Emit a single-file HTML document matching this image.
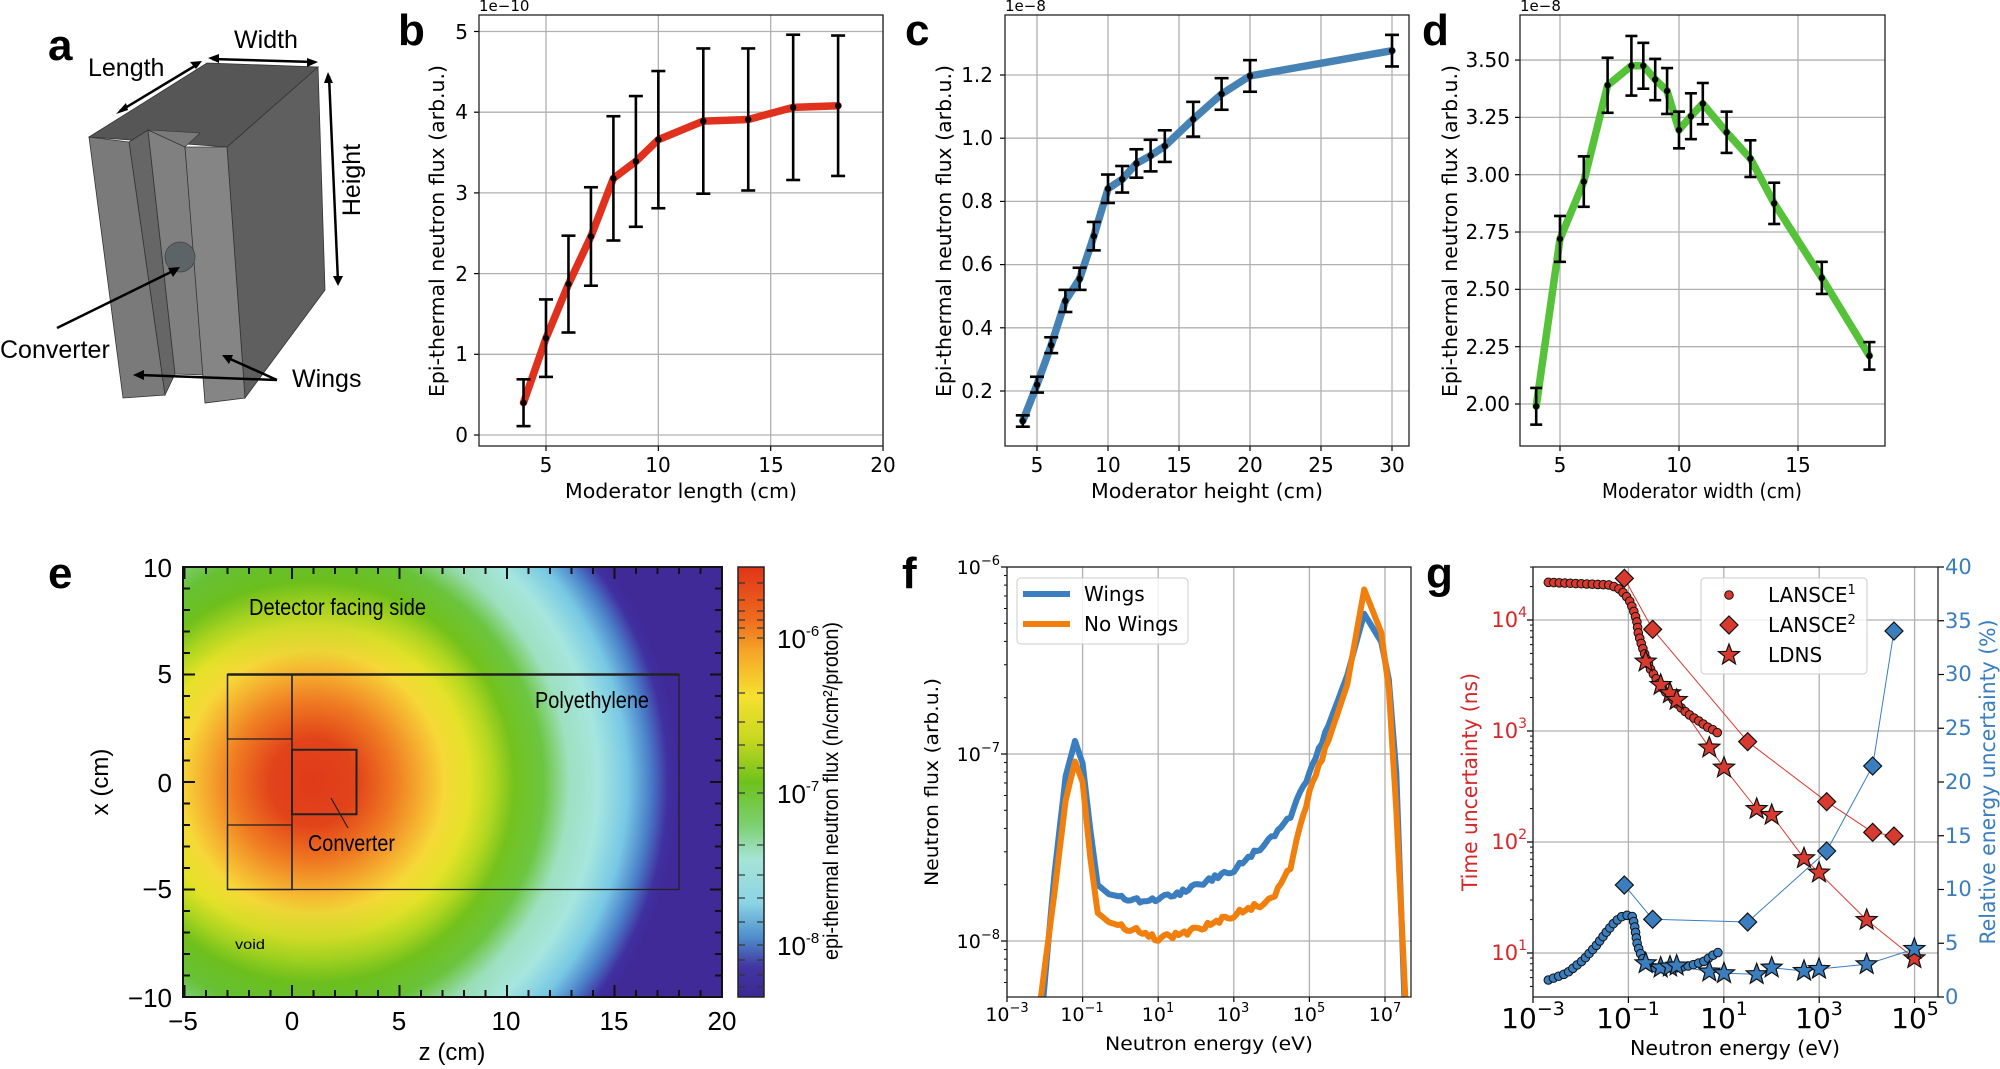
<!DOCTYPE html>
<html><head><meta charset="utf-8"><style>
html,body{margin:0;padding:0;background:#fff;width:2000px;height:1069px;overflow:hidden;}
svg{display:block;}
.t{font-family:"DejaVu Sans","Liberation Sans",sans-serif;fill:#000;}
.h{font-family:"Liberation Sans",sans-serif;fill:#000;}
.pl{font-family:"Liberation Sans","DejaVu Sans",sans-serif;font-weight:bold;font-size:44px;fill:#000;}
</style></head><body>
<svg id="s" width="2000" height="1069" viewBox="0 0 2000 1069" xmlns="http://www.w3.org/2000/svg">
<defs>
<radialGradient id="heat" gradientUnits="userSpaceOnUse" cx="313" cy="782" r="366">
<stop offset="0" stop-color="#e03a1a"/><stop offset="0.12" stop-color="#e2441a"/>
<stop offset="0.22" stop-color="#ef7a22"/><stop offset="0.3" stop-color="#f5b030"/>
<stop offset="0.36" stop-color="#f6d838"/><stop offset="0.43" stop-color="#e4e228"/>
<stop offset="0.49" stop-color="#b4d820"/><stop offset="0.55" stop-color="#74c21c"/>
<stop offset="0.63" stop-color="#6cc640"/><stop offset="0.7" stop-color="#9ee0c0"/>
<stop offset="0.78" stop-color="#a6e6de"/><stop offset="0.86" stop-color="#78c8e4"/>
<stop offset="0.92" stop-color="#4a80c8"/><stop offset="0.97" stop-color="#4030a0"/>
<stop offset="1" stop-color="#402a98"/>
</radialGradient>
<linearGradient id="ovlT" x1="0" y1="0" x2="0" y2="1">
<stop offset="0" stop-color="#5cb820" stop-opacity="0.4"/><stop offset="1" stop-color="#5cb820" stop-opacity="0"/>
</linearGradient>
<linearGradient id="ovlB" x1="0" y1="1" x2="0" y2="0">
<stop offset="0" stop-color="#5cb820" stop-opacity="0.4"/><stop offset="1" stop-color="#5cb820" stop-opacity="0"/>
</linearGradient>
<linearGradient id="hfade" gradientUnits="userSpaceOnUse" x1="183" y1="0" x2="500" y2="0">
<stop offset="0" stop-color="#fff"/><stop offset="0.5" stop-color="#fff"/><stop offset="1" stop-color="#000"/>
</linearGradient>
<mask id="mL" maskUnits="userSpaceOnUse" x="183" y="567" width="539" height="430"><rect x="183" y="567" width="539" height="430" fill="url(#hfade)"/></mask>
<linearGradient id="cbar" x1="0" y1="0" x2="0" y2="1">
<stop offset="0" stop-color="#e03418"/><stop offset="0.12" stop-color="#ee6a1e"/>
<stop offset="0.2" stop-color="#f6a828"/><stop offset="0.3" stop-color="#f6e030"/>
<stop offset="0.4" stop-color="#c8d820"/><stop offset="0.5" stop-color="#6ec21c"/>
<stop offset="0.6" stop-color="#7cd070"/><stop offset="0.68" stop-color="#a6e4d6"/>
<stop offset="0.78" stop-color="#8cd4e4"/><stop offset="0.86" stop-color="#4e90cc"/>
<stop offset="0.93" stop-color="#4236a0"/><stop offset="1" stop-color="#3c2896"/>
</linearGradient>
<clipPath id="clipE"><rect x="183" y="567" width="539" height="430"/></clipPath>
<clipPath id="clipF"><rect x="1007" y="567" width="404" height="430"/></clipPath>
<clipPath id="clipG"><rect x="1533" y="567" width="405" height="430"/></clipPath>
</defs>

<!-- Panel a -->
<g id="pa">
<polygon points="227,147 318,67 325,290 245,398" fill="#5f5f5f" stroke="#333" stroke-width="0.8"/>
<polygon points="89,137 207,63 318,67 227,147" fill="#565656" stroke="#333" stroke-width="0.8"/>
<polygon points="148,130 200,133 185,147 129,142" fill="#7a7a7a" stroke="#333" stroke-width="0.6"/>
<polygon points="129,142 148,130 175,374 165,395" fill="#666" stroke="#333" stroke-width="0.8"/>
<polygon points="148,130 185,147 205,375 175,374" fill="#808080" stroke="#333" stroke-width="0.8"/>
<polygon points="89,137 129,142 165,395 123,398" fill="#7a7a7a" stroke="#333" stroke-width="0.8"/>
<polygon points="185,147 227,147 245,398 205,403" fill="#858585" stroke="#333" stroke-width="0.8"/>
<circle cx="180" cy="257" r="15" fill="#5d6468" stroke="#444" stroke-width="0.8"/>
<g stroke="#000" stroke-width="2.5" fill="#000">
<line x1="120" y1="111" x2="198" y2="64"/><line x1="212" y1="59" x2="314" y2="62"/>
<line x1="329" y1="76" x2="338" y2="282"/><line x1="57" y1="328" x2="175" y2="270"/>
<line x1="277" y1="380" x2="140" y2="375"/><line x1="277" y1="380" x2="228" y2="358"/>
</g>
<g fill="#000">
<polygon points="116,114 126,103 128,110"/><polygon points="202,61 190,62 196,69"/>
<polygon points="208,58 219,54 219,63"/><polygon points="318,62 307,58 307,67"/>
<polygon points="328,72 324,83 333,83"/><polygon points="338,286 333,276 343,276"/>
<polygon points="180,267 168,268 173,277"/><polygon points="133,375 144,370 144,380"/>
<polygon points="222,355 233,355 229,364"/>
</g>
<text class="pl" x="48" y="60">a</text>
<text class="h" x="266" y="48" font-size="25" text-anchor="middle">Width</text>
<text class="h" x="88" y="76" font-size="25">Length</text>
<text class="h" font-size="25" text-anchor="middle" transform="translate(360,180) rotate(-90)">Height</text>
<text class="h" x="0" y="358" font-size="25">Converter</text>
<text class="h" x="292" y="387" font-size="25">Wings</text>
</g>

<text class="pl" x="398" y="45">b</text>
<text class="pl" x="905" y="45">c</text>
<text class="pl" x="1422" y="45">d</text>
<text class="pl" x="48" y="588">e</text>
<text class="pl" x="902" y="588">f</text>
<text class="pl" x="1426" y="588">g</text>

<g id="dyn"></g>

<g class="t" font-size="20">
<text x="479" y="11" font-size="15">1e−10</text>
<g text-anchor="end"><text x="468" y="442">0</text><text x="468" y="361">1</text><text x="468" y="281">2</text><text x="468" y="200">3</text><text x="468" y="119">4</text><text x="468" y="39">5</text></g>
<g text-anchor="middle"><text x="546" y="472">5</text><text x="658" y="472">10</text><text x="771" y="472">15</text><text x="883" y="472">20</text>
<text x="681" y="498" textLength="232" lengthAdjust="spacingAndGlyphs">Moderator length (cm)</text>
<text transform="translate(444,231) rotate(-90)" textLength="332" lengthAdjust="spacingAndGlyphs">Epi-thermal neutron flux (arb.u.)</text></g>
</g>
<g class="t" font-size="20">
<text x="1005" y="11" font-size="15">1e−8</text>
<g text-anchor="end"><text x="993" y="398">0.2</text><text x="993" y="335">0.4</text><text x="993" y="271">0.6</text><text x="993" y="208">0.8</text><text x="993" y="145">1.0</text><text x="993" y="82">1.2</text></g>
<g text-anchor="middle"><text x="1037" y="472">5</text><text x="1108" y="472">10</text><text x="1179" y="472">15</text><text x="1250" y="472">20</text><text x="1321" y="472">25</text><text x="1392" y="472">30</text>
<text x="1207" y="498" textLength="232" lengthAdjust="spacingAndGlyphs">Moderator height (cm)</text>
<text transform="translate(951,231) rotate(-90)" textLength="332" lengthAdjust="spacingAndGlyphs">Epi-thermal neutron flux (arb.u.)</text></g>
</g>
<g class="t" font-size="20">
<text x="1520" y="11" font-size="15">1e−8</text>
<g text-anchor="end"><text x="1510" y="411">2.00</text><text x="1510" y="354">2.25</text><text x="1510" y="296">2.50</text><text x="1510" y="239">2.75</text><text x="1510" y="182">3.00</text><text x="1510" y="124">3.25</text><text x="1510" y="67">3.50</text></g>
<g text-anchor="middle"><text x="1560" y="472">5</text><text x="1679" y="472">10</text><text x="1798" y="472">15</text>
<text x="1702" y="498" textLength="200" lengthAdjust="spacingAndGlyphs">Moderator width (cm)</text>
<text transform="translate(1457,231) rotate(-90)" textLength="332" lengthAdjust="spacingAndGlyphs">Epi-thermal neutron flux (arb.u.)</text></g>
</g>

<g class="h" font-size="26">
<g text-anchor="end"><text x="172" y="577">10</text><text x="172" y="683">5</text><text x="172" y="792">0</text><text x="172" y="898">−5</text><text x="172" y="1007">−10</text></g>
<g text-anchor="middle"><text x="183" y="1030">−5</text><text x="292" y="1030">0</text><text x="399" y="1030">5</text><text x="506" y="1030">10</text><text x="614" y="1030">15</text><text x="722" y="1030">20</text>
<text x="452" y="1060" font-size="24">z (cm)</text>
<text transform="translate(108,782) rotate(-90)" font-size="24">x (cm)</text></g>
<text x="249" y="615" font-size="23" textLength="177" lengthAdjust="spacingAndGlyphs">Detector facing side</text>
<text x="535" y="708" font-size="23" textLength="114" lengthAdjust="spacingAndGlyphs">Polyethylene</text>
<text x="308" y="851" font-size="23" textLength="87" lengthAdjust="spacingAndGlyphs">Converter</text>
<text x="235" y="949" font-size="14" textLength="30" lengthAdjust="spacingAndGlyphs">void</text>
<text x="777" y="648" font-size="26">10<tspan dy="-12" font-size="15">-6</tspan></text>
<text x="777" y="803" font-size="26">10<tspan dy="-12" font-size="15">-7</tspan></text>
<text x="777" y="955" font-size="26">10<tspan dy="-12" font-size="15">-8</tspan></text>
<text transform="translate(838,791) rotate(-90)" font-size="21" text-anchor="middle" textLength="338" lengthAdjust="spacingAndGlyphs">epi-thermal neutron flux (n/cm²/proton)</text>
</g>

<g class="t" font-size="19">
<g text-anchor="end"><text x="1000" y="574">10<tspan dy="-9" font-size="13">−6</tspan></text><text x="1000" y="761">10<tspan dy="-9" font-size="13">−7</tspan></text><text x="1000" y="948">10<tspan dy="-9" font-size="13">−8</tspan></text></g>
<g text-anchor="middle">
<text x="1007" y="1021">10<tspan dy="-9" font-size="13">−3</tspan></text><text x="1082" y="1021">10<tspan dy="-9" font-size="13">−1</tspan></text><text x="1158" y="1021">10<tspan dy="-9" font-size="13">1</tspan></text><text x="1233" y="1021">10<tspan dy="-9" font-size="13">3</tspan></text><text x="1309" y="1021">10<tspan dy="-9" font-size="13">5</tspan></text><text x="1385" y="1021">10<tspan dy="-9" font-size="13">7</tspan></text>
<text x="1209" y="1050" textLength="208" lengthAdjust="spacingAndGlyphs">Neutron energy (eV)</text>
<text transform="translate(938,782) rotate(-90)" textLength="208" lengthAdjust="spacingAndGlyphs">Neutron flux (arb.u.)</text></g>
<text x="1084" y="601" font-size="20">Wings</text>
<text x="1084" y="631" font-size="20">No Wings</text>
</g>

<g class="t">
<g text-anchor="end" font-size="21" style="fill:#d62728"><text x="1527" y="627">10<tspan dy="-10" font-size="14">4</tspan></text><text x="1527" y="738">10<tspan dy="-10" font-size="14">3</tspan></text><text x="1527" y="849">10<tspan dy="-10" font-size="14">2</tspan></text><text x="1527" y="960">10<tspan dy="-10" font-size="14">1</tspan></text></g>
<g font-size="21" style="fill:#3a7ebf"><text x="1945" y="1004">0</text><text x="1945" y="950">5</text><text x="1945" y="896">10</text><text x="1945" y="843">15</text><text x="1945" y="789">20</text><text x="1945" y="735">25</text><text x="1945" y="681">30</text><text x="1945" y="628">35</text><text x="1945" y="574">40</text></g>
<g text-anchor="middle" font-size="28">
<text x="1533" y="1028">10<tspan dy="-13" font-size="19">−3</tspan></text><text x="1628" y="1028">10<tspan dy="-13" font-size="19">−1</tspan></text><text x="1724" y="1028">10<tspan dy="-13" font-size="19">1</tspan></text><text x="1819" y="1028">10<tspan dy="-13" font-size="19">3</tspan></text><text x="1915" y="1028">10<tspan dy="-13" font-size="19">5</tspan></text></g>
<text x="1735" y="1055" font-size="20" text-anchor="middle" textLength="210" lengthAdjust="spacingAndGlyphs">Neutron energy (eV)</text>
<text transform="translate(1477,782) rotate(-90)" font-size="21" text-anchor="middle" style="fill:#d62728" textLength="218" lengthAdjust="spacingAndGlyphs">Time uncertainty (ns)</text>
<text transform="translate(1995,782) rotate(-90)" font-size="21" text-anchor="middle" style="fill:#3a7ebf" textLength="325" lengthAdjust="spacingAndGlyphs">Relative energy uncertainty (%)</text>
<g font-size="20"><text x="1768" y="602">LANSCE<tspan dy="-8" font-size="13">1</tspan></text><text x="1768" y="632">LANSCE<tspan dy="-8" font-size="13">2</tspan></text><text x="1768" y="662">LDNS</text></g>
</g>
</svg>
<script>
(function(){
var NS="http://www.w3.org/2000/svg",root=document.getElementById("dyn");
function E(tag,a,p){var e=document.createElementNS(NS,tag);for(var k in a)e.setAttribute(k,a[k]);(p||root).appendChild(e);return e;}
function L(x1,y1,x2,y2,c,w,p){return E("line",{x1:x1,y1:y1,x2:x2,y2:y2,stroke:c,"stroke-width":w},p);}
function PL(pts,c,w,p,extra){var a={points:pts.map(function(q){return q[0].toFixed(1)+","+q[1].toFixed(1)}).join(" "),fill:"none",stroke:c,"stroke-width":w,"stroke-linejoin":"round","stroke-linecap":"round"};for(var k in extra)a[k]=extra[k];return E("polyline",a,p);}
var G="#b0b0b0";
function panel(x0,x1,y0,y1,xt,yt,X,Y,xs,ys,err,col,cap){
 xt.forEach(function(v){L(X(v),y0,X(v),y1,G,1.3);L(X(v),y1,X(v),y1+5,"#000",1.2);});
 yt.forEach(function(v){L(x0,Y(v),x1,Y(v),G,1.3);L(x0-5,Y(v),x0,Y(v),"#000",1.2);});
 var pts=xs.map(function(v,i){return [X(v),Y(ys[i])]});
 PL(pts,col,7.5);
 xs.forEach(function(v,i){var x=X(v),a=Y(ys[i]+err[i]),b=Y(ys[i]-err[i]);L(x,a,x,b,"#000",2.6);L(x-cap,a,x+cap,a,"#000",2.6);L(x-cap,b,x+cap,b,"#000",2.6);E("circle",{cx:x,cy:Y(ys[i]),r:3.2,fill:"#000"});});
 E("rect",{x:x0,y:y0,width:x1-x0,height:y1-y0,fill:"none",stroke:"#222","stroke-width":1.3});
}
panel(479,883,15,446,[5,10,15,20],[0,1,2,3,4,5],function(v){return 546+(v-5)*22.47},function(v){return 435-v*80.7},
 [4,5,6,7,8,9,10,12,14,16,18],[0.4,1.2,1.87,2.46,3.18,3.39,3.66,3.89,3.91,4.06,4.08],[0.29,0.48,0.6,0.61,0.77,0.81,0.85,0.9,0.88,0.9,0.87],"#e0301e",7);
panel(1005,1409,15,446,[5,10,15,20,25,30],[0.2,0.4,0.6,0.8,1.0,1.2],function(v){return 1037+(v-5)*14.2},function(v){return 391-(v-0.2)*316},
 [4,5,6,7,8,9,10,11,12,13,14,16,18,20,30],[0.105,0.22,0.345,0.485,0.555,0.69,0.84,0.87,0.92,0.945,0.975,1.06,1.14,1.197,1.277],[0.018,0.025,0.025,0.035,0.035,0.045,0.045,0.042,0.045,0.05,0.05,0.055,0.05,0.05,0.05],"#4682b4",7);
panel(1520,1885,15,446,[5,10,15],[2,2.25,2.5,2.75,3,3.25,3.5],function(v){return 1560+(v-5)*23.8},function(v){return 404-(v-2)*229.3},
 [4,5,6,7,8,8.5,9,9.5,10,10.5,11,12,13,14,16,18],[1.99,2.72,2.97,3.39,3.475,3.475,3.415,3.365,3.195,3.255,3.31,3.185,3.07,2.875,2.55,2.21],[0.08,0.1,0.11,0.12,0.13,0.1,0.09,0.1,0.08,0.1,0.09,0.09,0.08,0.09,0.07,0.06],"#55c23a",6);

var ge=E("g",{"clip-path":"url(#clipE)"});
E("rect",{x:183,y:567,width:539,height:430,fill:"#402a98"},ge);
E("circle",{cx:313,cy:782,r:366,fill:"url(#heat)"},ge);
var gl=E("g",{mask:"url(#mL)"},ge);
E("rect",{x:183,y:567,width:539,height:100,fill:"url(#ovlT)"},gl);
E("rect",{x:183,y:897,width:539,height:100,fill:"url(#ovlB)"},gl);
var ZX=function(z){return 292+z*21.5},XY=function(x){return 782-x*21.5};
var bs="#222";
E("rect",{x:ZX(-3),y:XY(5),width:21*21.5,height:10*21.5,fill:"none",stroke:bs,"stroke-width":1.3},ge);
L(ZX(-3),XY(5),ZX(18),XY(5),bs,2.5,ge);
L(ZX(0),XY(5),ZX(0),XY(-5),bs,1.5,ge);
E("rect",{x:ZX(-3),y:XY(5),width:3*21.5,height:3*21.5,fill:"none",stroke:bs,"stroke-width":1.3},ge);
E("rect",{x:ZX(-3),y:XY(-2),width:3*21.5,height:3*21.5,fill:"none",stroke:bs,"stroke-width":1.3},ge);
E("rect",{x:ZX(0),y:XY(1.5),width:3*21.5,height:3*21.5,fill:"none",stroke:bs,"stroke-width":2},ge);
L(331,798,348,828,bs,1.2,ge);
for(var z=-5;z<=20;z++){var x=ZX(z),m=(z%5==0)?12:7;L(x,567,x,567+m,"#111",2);L(x,997,x,997-m,"#111",2);}
for(var q=-10;q<=10;q++){var y=XY(q),m=(q%5==0)?12:7;L(183,y,183+m,y,"#111",2);L(722,y,722-m,y,"#111",2);}
E("rect",{x:183,y:567,width:539,height:430,fill:"none",stroke:"#111","stroke-width":2});
E("rect",{x:738,y:567,width:26,height:430,fill:"url(#cbar)",stroke:"#222","stroke-width":1.5});
[583,600,611,620,628,638,693,722,745,768,793,845,875,898,922,945,960,975,987].forEach(function(y){L(738,y,745,y,"#333",1.2);L(757,y,764,y,"#333",1.2);});

var FX=function(l){return 1007+(l+3)*37.8},FY=function(l){return 754-(l+7)*187};
for(var d=-3;d<=7;d+=2){L(FX(d),567,FX(d),997,G,1.3);L(FX(d),997,FX(d),1002,"#000",1.2);}
[-6,-7,-8].forEach(function(d){L(1007,FY(d),1411,FY(d),G,1.3);L(1001,FY(d),1007,FY(d),"#000",1.2);});
for(var dd=-9;dd<=-7;dd++)for(var k=2;k<10;k++){var yy=FY(dd+Math.log10(k));if(yy>=567&&yy<=997)L(1004,yy,1007,yy,"#000",1);}
var gf=E("g",{"clip-path":"url(#clipF)"});
function wig(pts,amp){var out=[];for(var i=0;i<pts.length-1;i++){var a=pts[i],b=pts[i+1];var n=Math.max(1,Math.round((b[0]-a[0])/0.08));for(var j=0;j<n;j++){var t=j/n;var x=a[0]+(b[0]-a[0])*t,y=a[1]+(b[1]-a[1])*t;if(x>0&&x<5.5)y+=amp*Math.sin(x*23+Math.cos(x*7)*2);out.push([FX(x),FY(y)]);}}var l=pts[pts.length-1];out.push([FX(l[0]),FY(l[1])]);return out;}
var blue=[[-2.1,-8.45],[-1.75,-7.65],[-1.45,-7.12],[-1.2,-6.93],[-1.0,-7.05],[-0.8,-7.4],[-0.6,-7.7],[-0.3,-7.75],[0.6,-7.79],[1.5,-7.75],[2.5,-7.66],[3,-7.62],[4,-7.45],[4.5,-7.33],[5,-7.1],[5.5,-6.85],[6,-6.58],[6.45,-6.25],[6.9,-6.4],[7.1,-6.6],[7.3,-7.1],[7.53,-8.4]];
var orng=[[-2.2,-8.45],[-1.75,-7.75],[-1.45,-7.25],[-1.2,-7.04],[-1.0,-7.15],[-0.8,-7.55],[-0.6,-7.85],[-0.3,-7.9],[0.5,-7.95],[1,-7.99],[2,-7.94],[3,-7.86],[4,-7.78],[4.5,-7.6],[5,-7.2],[5.5,-6.93],[6,-6.63],[6.45,-6.12],[6.9,-6.35],[7.1,-6.65],[7.3,-7.3],[7.56,-8.4]];
PL(wig(blue,0.012),"#3a7ebf",6,gf);
PL(wig(orng,0.015),"#f07f0e",6,gf);
E("rect",{x:1007,y:567,width:404,height:430,fill:"none",stroke:"#222","stroke-width":1.3});
E("rect",{x:1017,y:578,width:171,height:66,rx:4,fill:"#fff","fill-opacity":0.8,stroke:"#ccc","stroke-width":1});
L(1023,594,1070,594,"#3a7ebf",6);L(1023,624,1070,624,"#f07f0e",6);

var GX=function(l){return 1533+(l+3)*47.7},GL=function(l){return 953-(l-1)*111},GR=function(p){return 997-p*10.75};
for(d=-3;d<=5;d+=2){L(GX(d),567,GX(d),997,G,1.3);L(GX(d),997,GX(d),1003,"#000",1.2);}
[1,2,3,4].forEach(function(d){L(1533,GL(d),1938,GL(d),G,1.3);L(1527,GL(d),1533,GL(d),"#000",1.2);});
for(dd=0;dd<=4;dd++)for(k=2;k<10;k++){yy=GL(dd+Math.log10(k));if(yy>=567&&yy<=997)L(1530,yy,1533,yy,"#000",1);}
for(var p=0;p<=40;p+=5)L(1938,GR(p),1944,GR(p),"#000",1.2);
var gg=E("g",{"clip-path":"url(#clipG)"});
function Z(pts){return pts.map(function(q){return [1500+q[0]/3,545+q[1]/3]});}
function dense(pts,step){var out=[pts[0]],acc=0;for(var i=0;i<pts.length-1;i++){var a=pts[i],b=pts[i+1],len=Math.hypot(b[0]-a[0],b[1]-a[1]);var s=step-acc;while(s<=len){out.push([a[0]+(b[0]-a[0])*s/len,a[1]+(b[1]-a[1])*s/len]);s+=step;}acc=len-(s-step);}return out;}
var RED="#d93a2f",BL="#3a7ebf";
var r2=Z([[373,100],[458,253],[743,590],[980,770],[1118,862],[1182,873]]);
var b2=Z([[373,1020],[458,1123],[743,1131],[980,918],[1118,663],[1182,258]]);
var r3=Z([[437,350],[482,420],[510,445],[530,465],[628,608],[672,668],[770,792],[815,810],[912,940],[957,983],[1100,1125],[1243,1240]]);
var b3=Z([[437,1255],[482,1268],[510,1265],[530,1262],[628,1280],[672,1285],[770,1288],[815,1268],[912,1278],[957,1272],[1100,1258],[1243,1212]]);
PL(r2,RED,1,gg);PL(b2,BL,1,gg);PL(r3,RED,1,gg);PL(b3,BL,1,gg);
var r1=dense(Z([[145,112],[330,120],[355,130],[375,148],[390,170],[400,195],[410,225],[415,265],[425,300],[435,330],[450,370],[465,395],[480,420],[500,445],[525,470],[550,495],[575,515],[600,530],[620,545],[640,555],[655,565]]),5.5);
var b1=dense(Z([[145,1305],[200,1285],[250,1245],[290,1200],[320,1160],[345,1130],[365,1115],[385,1110],[398,1115],[405,1150],[412,1200],[425,1235],[440,1260],[470,1270],[520,1270],[570,1262],[610,1250],[640,1230],[655,1222]]),5.5);
r1.forEach(function(q){E("circle",{cx:q[0],cy:q[1],r:4.3,fill:RED,stroke:"#111","stroke-width":1},gg);});
b1.forEach(function(q){E("circle",{cx:q[0],cy:q[1],r:4.3,fill:BL,stroke:"#111","stroke-width":1},gg);});
function dia(x,y,c,s,p){E("polygon",{points:[x,y-s,x+s,y,x,y+s,x-s,y].join(","),fill:c,stroke:"#111","stroke-width":1.2},p);}
function star(x,y,c,R,p){var pts=[];for(var i=0;i<10;i++){var r=i%2?R*0.42:R,a=-Math.PI/2+i*Math.PI/5;pts.push((x+r*Math.cos(a)).toFixed(1)+","+(y+r*Math.sin(a)).toFixed(1));}E("polygon",{points:pts.join(" "),fill:c,stroke:"#111","stroke-width":1.2},p);}
r2.forEach(function(q){dia(q[0],q[1],RED,9,gg)});b2.forEach(function(q){dia(q[0],q[1],BL,9,gg)});
r3.forEach(function(q){star(q[0],q[1],RED,11,gg)});b3.forEach(function(q){star(q[0],q[1],BL,11,gg)});
E("rect",{x:1533,y:567,width:405,height:430,fill:"none",stroke:"#222","stroke-width":1.3});
E("rect",{x:1701,y:578,width:166,height:96,rx:4,fill:"#fff","fill-opacity":0.8,stroke:"#ccc","stroke-width":1});
E("circle",{cx:1729,cy:595,r:4.3,fill:RED,stroke:"#111","stroke-width":1});
dia(1729,625,RED,9);star(1729,655,RED,11);
})();
</script>
</body></html>
